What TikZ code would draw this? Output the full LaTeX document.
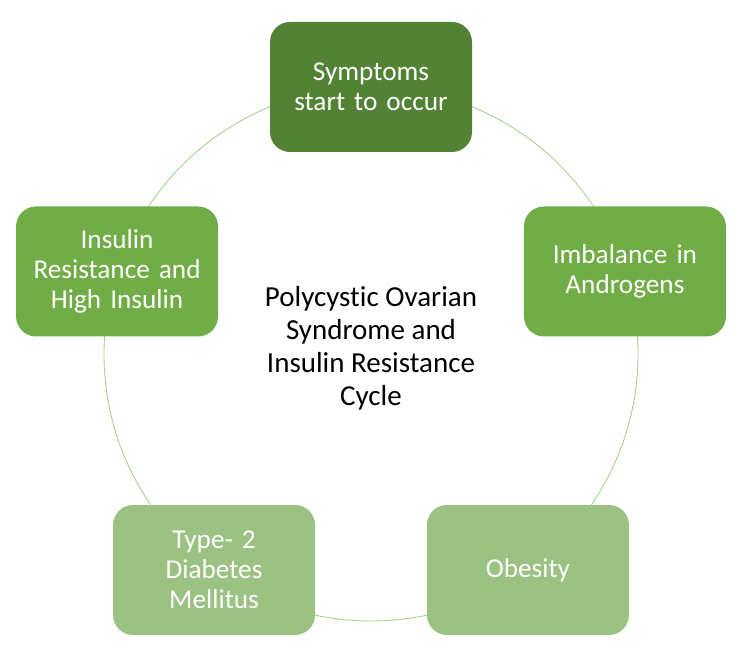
\documentclass[tikz,border=0pt]{standalone}
\usepackage{fontspec}
\setmainfont{Carlito}[RawFeature={-liga;-clig;-calt;-dlig}]
\usetikzlibrary{calc}
\definecolor{darkleaf}{HTML}{548235}
\definecolor{leaf}{HTML}{70AD47}
\definecolor{paleleaf}{HTML}{9BC283}
\definecolor{ring}{HTML}{A9D18E}
\tikzstyle{stage}=[rectangle,rounded corners=0.4cm,minimum width=4.04cm,minimum height=2.6cm,text width=3.6cm,align=center,text=white,font=\fontsize{15.5}{17}\selectfont]
\tikzstyle{title}=[align=center,font=\fontsize{16.5}{18.7}\selectfont]
\tikzstyle{cycle}=[draw=ring,line width=0.5pt]

\begin{document}
\begin{tikzpicture}

    \useasboundingbox (0,0) rectangle (15,13.02);

    \def\r{5.34};
    \coordinate (hub) at (7.42,5.94);

    \draw[cycle] (hub) circle (\r);

     \foreach \ang/\name/\col/\txt in {90/symptoms/darkleaf/{Symptoms\\start to occur}, 18/androgens/leaf/{Imbalance in\\Androgens}, -54/obesity/paleleaf/{Obesity}, -126/diabetes/paleleaf/{Type- 2\\Diabetes\\Mellitus}, 162/insulin/leaf/{Insulin\\Resistance and\\High Insulin}}
        \node[stage, fill=\col] (\name) at ($(hub)+(\ang:\r)$) {\txt};

    \node[title] (pcos) at ($(hub)+(0,0.12)$) {Polycystic Ovarian\\Syndrome and\\Insulin Resistance\\Cycle};

\end{tikzpicture}
\end{document}
